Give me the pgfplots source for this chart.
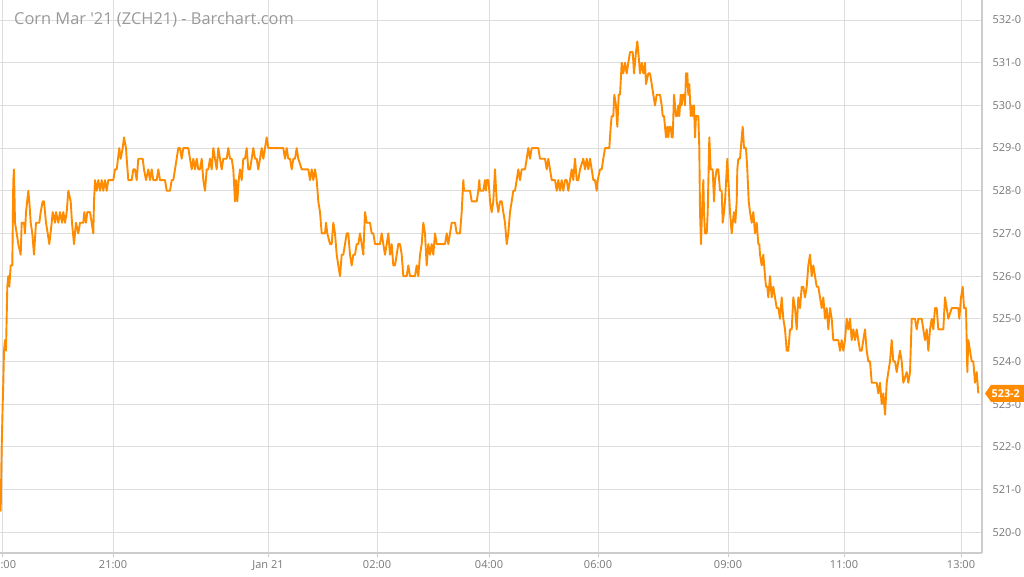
\documentclass[border=0pt]{standalone}
\usepackage{fontspec}
\setmainfont{Open Sans}
\newfontfamily\titlefont{Open Sans}
\usepackage{pgfplots}
\pgfplotsset{compat=1.18}
\definecolor{linecol}{RGB}{255,140,0}
\definecolor{gridcol}{RGB}{221,221,221}
\definecolor{axiscol}{RGB}{204,204,204}
\definecolor{tickcol}{RGB}{119,119,119}
\definecolor{titlecol}{RGB}{153,153,153}

\begin{document}
\begin{tikzpicture}
\path[use as bounding box] (0,0) rectangle (1024pt,576pt);
\begin{axis}[
  at={(0pt,23pt)}, anchor=south west,
  scale only axis, width=982pt, height=553pt,
  xmin=0, xmax=982, ymin=519.51, ymax=532.47,
  axis x line*=bottom, axis y line*=right,
  axis line style={draw=axiscol, line width=1.2pt, -},
  xtick={2,113,268,377,489,598,728,844,961},
  xticklabels={19:00,21:00,Jan 21,02:00,04:00,06:00,09:00,11:00,13:00},
  ytick={520,521,...,532},
  yticklabels={520-0,521-0,522-0,523-0,524-0,525-0,526-0,527-0,528-0,529-0,530-0,531-0,532-0},
  grid=major, major grid style={draw=gridcol, line width=1pt},
  tick align=outside, major tick length=4pt,
  xtick style={draw=axiscol, line width=1pt},
  ytick style={draw=none},
  ticklabel style={font=\fontsize{11}{13}\selectfont, text=tickcol},
  yticklabel style={anchor=west, xshift=3pt},
]
\addplot[linecol, line width=1.9pt, line join=round] table {
x y
0 521.25
0.7 520.5
1.7 522.0
2.7 523.0
3.3 523.5
4 524.25
5 524.5
6 524.25
7.3 525.75
8.3 526.0
9.3 525.75
10.7 526.25
12.3 526.25
13.3 528.25
14 528.5
15 527.25
16.7 527.0
18.3 526.75
20.7 526.5
21.7 527.25
24 527.25
25 527.0
26 527.5
28.3 528.0
29.3 527.75
30.7 527.25
32.3 527.0
34 526.5
36 527.25
39.3 527.25
40.7 527.5
42.7 527.75
44 527.75
46 527.25
47.7 527.0
49.3 526.75
51.7 527.25
52.7 527.5
55 527.25
56 527.5
58.3 527.25
60 527.5
62 527.25
63.3 527.5
65 527.25
66.7 527.5
68.3 528.0
70.7 527.75
72 527.25
74 526.75
76 527.25
78.3 527.0
80 527.25
83.3 527.25
84.3 527.5
86 527.25
87.3 527.5
90 527.5
91.7 527.25
93.3 527.0
94 527.75
95 528.25
96.7 528.0
98.3 528.25
100 528.0
101.7 528.25
103.3 528.0
105 528.25
106.7 528.0
108.3 528.25
113.3 528.25
115 528.5
116.7 528.5
119.3 529.0
120.7 528.75
122.7 529.0
124 529.25
126 529.0
126.7 528.75
128.3 528.25
131.7 528.25
133.3 528.5
135 528.5
136.7 528.25
138.3 528.75
142.7 528.75
144 528.5
146 528.25
148.3 528.5
150 528.25
151.7 528.5
153.3 528.25
156.7 528.25
158.3 528.5
160 528.25
165 528.25
166.7 528.0
170 528.0
171.7 528.25
173.3 528.25
175 528.5
178.3 529.0
180 529.0
181.7 528.75
183.3 529.0
188.3 529.0
190 528.75
191.7 528.5
193.3 528.75
195 528.5
196.7 528.75
198.3 528.5
200 528.5
201.7 528.75
203.3 528.25
205 528.0
206.7 528.5
208.3 528.5
210 528.75
211.7 528.5
213.3 529.0
215 528.75
216.7 528.5
218.3 529.0
220 528.75
221.7 528.5
223.3 528.75
226.7 528.75
228.3 529.0
230 528.75
231.7 528.75
233.3 528.5
235 527.75
236 528.25
237.3 527.75
238.7 528.25
240 528.5
241.7 528.25
243.3 528.75
245 528.75
246.7 529.0
248.3 528.5
250 528.5
251.7 528.75
253.3 529.0
255 528.75
256.7 528.75
258.3 528.5
260 528.75
261.7 529.0
263.3 528.75
265 529.0
266.7 529.25
268.3 529.0
283.3 529.0
285 528.75
286.7 529.0
288.3 528.75
290 528.75
291.7 528.5
293.3 528.75
295 528.75
296.7 529.0
298.3 528.75
301.7 528.5
308.3 528.5
310 528.25
311.7 528.5
313.3 528.25
315 528.5
316.7 528.25
318.3 527.75
320 527.5
321.7 527.0
325 527.0
326 527.25
327.3 527.0
330 526.75
331.7 526.75
333.3 527.25
335 527.0
336.7 526.5
338.3 526.25
340 526.0
341.7 526.5
343.3 526.5
345 526.75
346.7 527.0
348.3 527.0
350 526.5
351.7 526.25
353.3 526.5
355 526.5
356.7 526.75
358.3 526.75
360 527.0
361.7 526.75
363.3 526.5
365 527.5
366.7 527.25
370 527.25
371.7 527.0
373.3 527.0
375 526.75
376.7 526.75
380 526.75
381.7 527.0
383.3 526.75
385 526.5
386.7 526.75
388.3 527.0
390 526.5
391.7 526.75
393.3 526.25
395 526.25
396.7 526.5
398.3 526.75
400 526.75
401.7 526.5
403.3 526.0
406.7 526.0
408.3 526.25
410 526.0
415 526.0
416.7 526.25
418.3 526.0
420 526.5
421.7 526.75
423.3 527.25
425 527.0
426.7 526.25
428.3 526.75
430 526.5
431.7 526.75
433.3 526.5
435 527.0
436.7 526.75
445 526.75
446.7 527.0
448.3 526.75
450 527.0
451.7 527.25
455 527.25
456.7 527.0
460 527.0
461.7 527.5
463.3 528.25
464 528.0
470 528.0
471.7 527.75
476.7 527.75
478.3 528.0
479.3 528.25
480 528.0
483.3 528.0
485 528.25
486 528.0
486.7 528.25
488.3 528.25
489.3 528.0
490 527.75
491.7 527.5
493.3 527.75
495 528.5
496.7 527.75
498.3 527.5
500 527.75
501.7 527.75
503.3 527.5
505 527.25
506.7 526.75
508.3 527.0
510 527.5
511.7 527.75
513.3 528.0
515 528.0
516.7 528.25
518.3 528.5
520 528.25
521.7 528.5
525 528.5
526.7 528.75
528.3 529.0
530 528.75
531.7 529.0
538.3 529.0
540 528.75
545 528.75
546.7 528.5
548.3 528.75
550 528.5
551.7 528.25
555 528.25
556.7 528.0
558.3 528.25
560 528.0
561.7 528.25
563.3 528.0
565 528.25
566.7 528.25
568.3 528.0
570 528.25
571.7 528.5
573.3 528.25
575 528.75
576.7 528.25
578.3 528.25
580 528.5
583.3 528.75
585 528.5
586.7 528.75
588.3 528.5
590 528.75
591.7 528.5
593.3 528.25
595 528.25
596.7 528.0
597.7 528.25
600 528.5
601.7 528.5
603.3 528.75
605 529.0
609.3 529.0
610.7 529.5
611.7 529.75
613.3 529.75
614.3 530.25
616 530.0
617.3 529.5
618.7 530.25
620 530.25
621.7 531.0
623.3 530.75
625 531.0
626.7 530.75
628.3 531.0
630 531.25
632.7 531.25
634 530.75
636 531.25
637.3 531.5
638.3 531.25
640 530.75
641.7 531.0
643.3 530.75
645 531.0
646 530.5
648.3 530.75
650 530.75
651.7 530.5
653.3 530.25
655 530.0
656.7 530.25
660 530.25
661.7 530.0
662.7 529.75
664 529.75
665 529.5
666 529.25
667.3 529.5
668.3 529.25
669.3 529.5
670.7 529.5
671.7 529.25
672.7 529.25
674 530.25
675 530.0
676 529.75
677.3 529.75
678.3 530.0
679.3 529.75
680.7 530.25
681.7 530.0
682.7 530.25
684 530.25
685 530.0
686 530.75
687.3 530.75
688.3 530.25
689.3 530.5
690.7 529.75
691.7 530.0
692.7 529.75
694 530.0
695 529.25
696 529.75
698.3 529.75
699.3 529.0
700 527.5
701 526.75
702 527.5
703.3 528.25
704 527.5
705 527.0
706.7 527.0
707.7 527.5
709.3 529.25
710.7 528.5
712.7 528.5
714 527.75
715 528.25
716.7 528.5
718.3 528.5
720 528.0
721.7 528.0
722.7 527.25
724 527.5
725 527.75
727.3 528.75
728.3 528.25
730 527.5
731.7 527.0
732.7 527.25
734 527.5
735.3 527.25
736.7 527.75
737.3 528.5
738.3 528.75
740 528.75
741.7 529.25
742.7 529.5
744 529.0
746 529.0
747.3 528.5
748.7 527.75
750 527.5
751.7 527.25
753.3 527.5
755 527.0
756.7 527.25
758.3 526.75
759.3 526.75
760 526.5
761.7 526.25
763.3 526.5
765 526.0
766 525.75
767.3 525.75
768.3 525.5
770 526.0
771.7 525.5
773.3 525.75
775 525.5
776.7 525.25
778.3 525.25
780 525.0
781.7 525.5
783.3 525.0
785 524.75
786.7 524.25
788.3 524.25
790 524.75
791.7 524.75
793.3 525.5
795 525.25
796.7 524.75
798.3 525.5
800 525.25
801.7 525.75
803.3 525.75
805 525.5
806.7 525.75
808.3 526.25
810 526.5
811.7 526.0
813.3 526.25
815 526.0
816.7 525.75
818.3 525.75
820 525.5
821.7 525.25
823.3 525.5
825 525.0
826.7 525.25
828.3 524.75
830 525.25
831.7 525.0
833.3 524.5
838.3 524.5
840 524.25
841.7 524.5
843.3 524.25
845 524.5
846.7 525.0
848.3 524.75
850 525.0
851.7 524.5
853.3 524.75
855 524.5
856.7 524.75
858.3 524.5
860 524.25
861.7 524.25
863.3 524.5
865 524.75
866.7 524.25
868.3 524.0
870 524.0
871.7 523.5
876.7 523.5
878.3 523.25
880 523.5
881.7 523.0
883.3 523.25
885 522.75
886.7 523.5
888.3 523.75
890 524.0
891.7 524.5
893.3 524.0
895 524.0
896.7 523.75
898.3 524.0
900 524.25
901.7 524.0
903.3 523.5
906.7 523.75
908.3 523.5
910 523.75
911.7 525.0
915 525.0
916.7 524.75
918.3 525.0
921.7 525.0
923.3 524.75
925 524.5
926.7 524.75
928.3 524.25
930 524.75
931.7 525.0
933.3 524.75
935 525.25
936.7 525.25
938.3 524.75
943.3 524.75
945 525.5
946.7 525.25
948.3 525.0
951.7 525.25
958.3 525.25
959.3 525.0
961 525.5
962.7 525.75
964 525.25
966 525.25
967.3 523.75
968.3 524.5
970 524.25
971.7 524.0
973.3 524.0
975 523.5
976.7 523.75
978.3 523.25
};
\coordinate (last) at (axis cs:982,523.25);
\end{axis}
\fill[linecol] ([xshift=3pt]last) -- ++(6pt,8.5pt) -- ++(40pt,0pt) -- ++(0pt,-17pt) -- ++(-40pt,0pt) -- cycle;
\node[anchor=west, text=white, font=\bfseries\fontsize{10.8}{12}\selectfont, inner sep=0pt] at ([xshift=9.5pt]last) {523-2};
\node[anchor=west, text=titlecol, font=\titlefont\fontsize{16.4}{19}\selectfont, inner sep=0pt] at (14pt,556pt) {Corn Mar '21 (ZCH21) - Barchart.com};
\end{tikzpicture}
\end{document}
